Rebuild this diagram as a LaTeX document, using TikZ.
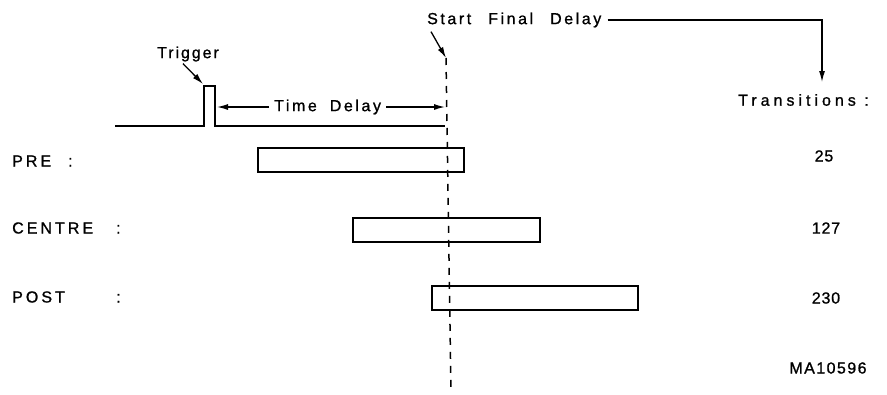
\documentclass[tikz,border=0pt]{standalone}
\usepackage{fontspec}
\setmainfont{Liberation Sans}[FakeBold=1]
\usetikzlibrary{arrows.meta}
\newcommand\trk[1]{\addfontfeatures{LetterSpace=#1}}
\begin{document}
\begin{tikzpicture}[x=1pt,y=-1pt,
  every node/.style={inner sep=0pt},
  txt/.style={font=\fontsize{16}{18}\selectfont},
  bar/.style={draw, line width=1.9pt, minimum height=24pt},
  sig/.style={line width=1.9pt},
  arr/.style={line width=1.3pt, -{Latex[length=11pt,width=6pt]}},
  dsh/.style={line width=1.5pt, dash pattern=on 7pt off 7pt}]
\useasboundingbox (0,0) rectangle (887,394);

% texts
\node[txt, anchor=west] (trig) at (157,54) {\trk{12}Trigger};
\node[txt, anchor=west] (td) at (274,107) {\trk{16}Time\hspace{6pt} Delay};
\node[txt, anchor=west] (sfd) at (427,20) {\trk{16}Start\hspace{10pt} Final\hspace{10pt} Delay};
\node[txt, anchor=west] (trans) at (738,100) {\trk{25}Transitions :};

\node[txt, anchor=west] (lpre) at (12,161) {\trk{19}\makebox[56pt][l]{PRE}:};
\node[txt, anchor=west] (lcen) at (12,228) {\trk{19}\makebox[104pt][l]{CENTRE}:};
\node[txt, anchor=west] (lpost) at (12,297) {\trk{19}\makebox[104pt][l]{POST}:};

\node[txt] (n25) at (824,156) {\trk{5}25};
\node[txt] (n127) at (826,228) {\trk{5}127};
\node[txt] (n230) at (826,298) {\trk{5}230};
\node[txt] (ma) at (828,368) {\trk{9}MA10596};

% boxes
\node[bar, minimum width=206pt] (bpre) at (361,160) {};
\node[bar, minimum width=187pt] (bcen) at (446.5,230) {};
\node[bar, minimum width=206pt] (bpost) at (535,298) {};

% signal line with trigger pulse
\coordinate (bl) at (115,126);
\coordinate (br) at (445,126);
\coordinate (pL) at (204,86);
\coordinate (pR) at (215,86);
\draw[sig] (bl) -- (pL |- bl) -- (pL) -- (pR) -- (pR |- br) -- (br);

% dashed marker line
\coordinate (dtop) at (446,58);
\coordinate (dbot) at (451,392);
\draw[dsh] (dtop) -- (dbot);

% arrows
\coordinate (trtip) at (203,84);
\draw[arr] ([xshift=26pt,yshift=-2pt]trig.south west) -- (trtip);
\coordinate (tdl) at (217,107);
\coordinate (tdr) at (445,107);
\draw[arr] ([xshift=-5pt]td.west) -- (tdl);
\draw[arr] ([xshift=5pt]td.east) -- (tdr);
\draw[arr] ([xshift=4pt,yshift=-4pt]sfd.south west) -- (dtop);
\coordinate (ttip) at (822,82);
\draw[arr] ([xshift=6pt]sfd.east) -| (ttip);
\end{tikzpicture}
\end{document}
